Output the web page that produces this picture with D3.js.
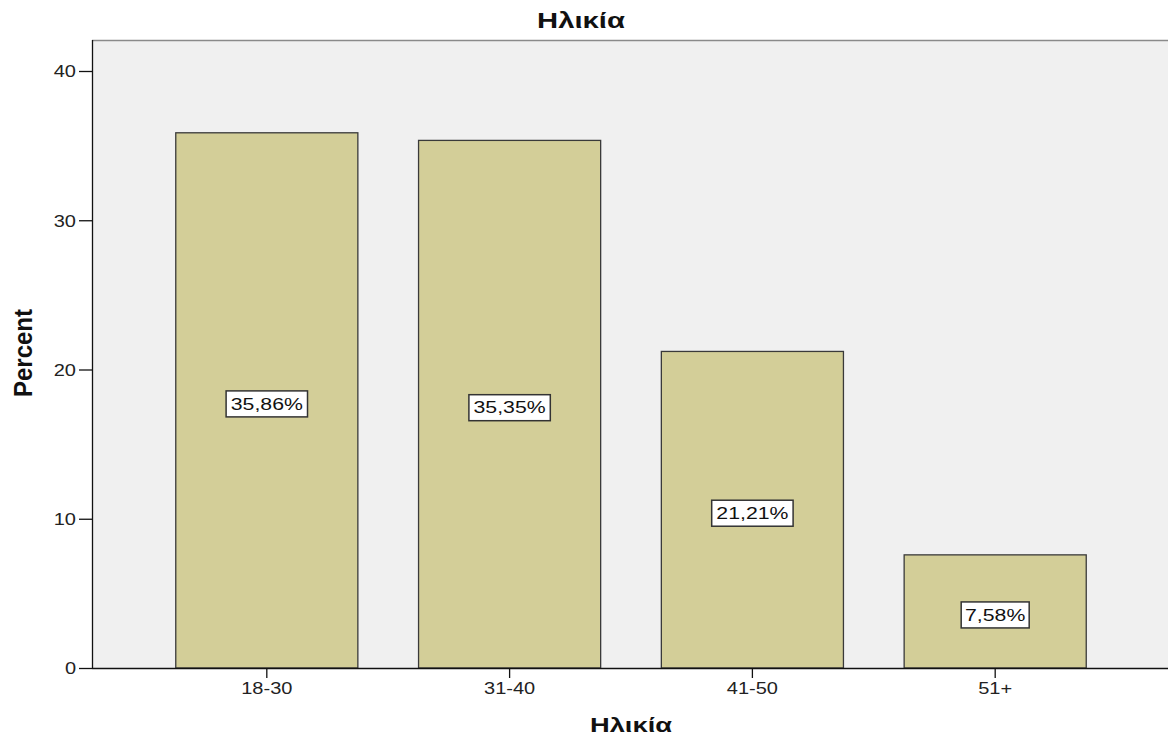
<!DOCTYPE html>
<html>
<head>
<meta charset="utf-8">
<script src="https://cdn.jsdelivr.net/npm/d3@7"></script>
<style>
  html, body { margin: 0; padding: 0; background: #fff; }
  text { font-family: "Liberation Sans", Arial, sans-serif; }
</style>
</head>
<body>
<svg id="chart" width="1168" height="737"></svg>
<script>
const categories = ["18-30", "31-40", "41-50", "51+"];
const percents = [35.86, 35.35, 21.21, 7.58];
const labels = ["35,86%", "35,35%", "21,21%", "7,58%"];
const yTicks = [0, 10, 20, 30, 40];
const chartTitle = "Ηλικία";
const xTitle = "Ηλικία";
const yTitle = "Percent";

const W = 1168, H = 737;
const mLeft = 92, mRight = 1170, mTop = 40, mBottom = 668;
const SX = 1.25; // horizontal stretch of text

const svg = d3.select("#chart");

const x = d3.scaleBand().domain(categories).range([mLeft, mRight])
  .paddingInner(0.25).paddingOuter(0.345);
const y = d3.scaleLinear().domain([0, 40]).range([mBottom, 71]);

// plot background
svg.append("rect").attr("x", mLeft).attr("y", mTop)
  .attr("width", W - mLeft).attr("height", mBottom - mTop)
  .attr("fill", "#f0f0f0");
// top frame line
svg.append("line").attr("x1", mLeft).attr("x2", W).attr("y1", mTop + 0.5).attr("y2", mTop + 0.5)
  .attr("stroke", "#8a8a8a").attr("stroke-width", 1.5);

// bars
svg.append("g").selectAll("rect").data(percents).join("rect")
  .attr("x", (d, i) => x(categories[i]))
  .attr("y", d => y(d))
  .attr("width", x.bandwidth())
  .attr("height", d => mBottom - y(d))
  .attr("fill", "#d3ce98")
  .attr("stroke", "#3a3a3a")
  .attr("stroke-width", 1.3);

// y axis
const yAxis = svg.append("g").attr("transform", `translate(${mLeft},0)`)
  .call(d3.axisLeft(y).tickValues(yTicks).tickSize(13).tickSizeOuter(0).tickPadding(3));
yAxis.select(".domain").remove();
yAxis.append("line").attr("x1", 0.5).attr("x2", 0.5).attr("y1", mTop).attr("y2", mBottom)
  .attr("stroke", "#111").attr("stroke-width", 1.3);
yAxis.selectAll(".tick line").attr("stroke", "#111").attr("stroke-width", 1.3);
yAxis.selectAll(".tick text")
  .attr("font-size", 16).attr("fill", "#222")
  .attr("x", -16 / SX)
  .attr("transform", `scale(${SX},1)`)
  .attr("dy", "0.36em");

// x axis
const xAxis = svg.append("g").attr("transform", `translate(0,${mBottom})`)
  .call(d3.axisBottom(x).tickSize(10).tickSizeOuter(0).tickPadding(5));
xAxis.select(".domain").remove();
xAxis.append("line").attr("x1", mLeft).attr("x2", W).attr("y1", 0.5).attr("y2", 0.5)
  .attr("stroke", "#111").attr("stroke-width", 1.3);
xAxis.selectAll(".tick line").attr("stroke", "#111").attr("stroke-width", 1.3);
xAxis.selectAll(".tick text")
  .attr("font-size", 16).attr("fill", "#222")
  .attr("transform", `scale(${SX},1)`)
  .attr("dy", "0.71em");

// value labels in boxes
const lab = svg.append("g").selectAll("g").data(percents).join("g")
  .attr("transform", (d, i) => `translate(${x(categories[i]) + x.bandwidth() / 2},${y(d / 2) + 3.5})`);
lab.append("rect")
  .attr("x", (d, i) => -(labels[i].length * 6.7 + 0.5))
  .attr("y", -13)
  .attr("width", (d, i) => labels[i].length * 13.4 + 1)
  .attr("height", 26)
  .attr("fill", "#fff")
  .attr("stroke", "#333")
  .attr("stroke-width", 1.5);
lab.append("text")
  .attr("text-anchor", "middle")
  .attr("dy", "0.36em")
  .attr("font-size", 16)
  .attr("fill", "#111")
  .attr("transform", "scale(1.33,1)")
  .text((d, i) => labels[i]);

// titles
svg.append("text")
  .attr("transform", `translate(${W / 2 - 3},28) scale(1.33,1)`)
  .attr("text-anchor", "middle")
  .attr("font-size", 22).attr("font-weight", "bold").attr("fill", "#111")
  .text(chartTitle);

svg.append("text")
  .attr("transform", `translate(${(mLeft + W) / 2 + 1},732) scale(1.3,1)`)
  .attr("text-anchor", "middle")
  .attr("font-size", 21).attr("font-weight", "bold").attr("fill", "#111")
  .text(xTitle);

svg.append("text")
  .attr("transform", `translate(32,353) rotate(-90) scale(1,1.1)`)
  .attr("text-anchor", "middle")
  .attr("font-size", 24).attr("font-weight", "bold").attr("fill", "#111")
  .text(yTitle);
</script>
</body>
</html>
